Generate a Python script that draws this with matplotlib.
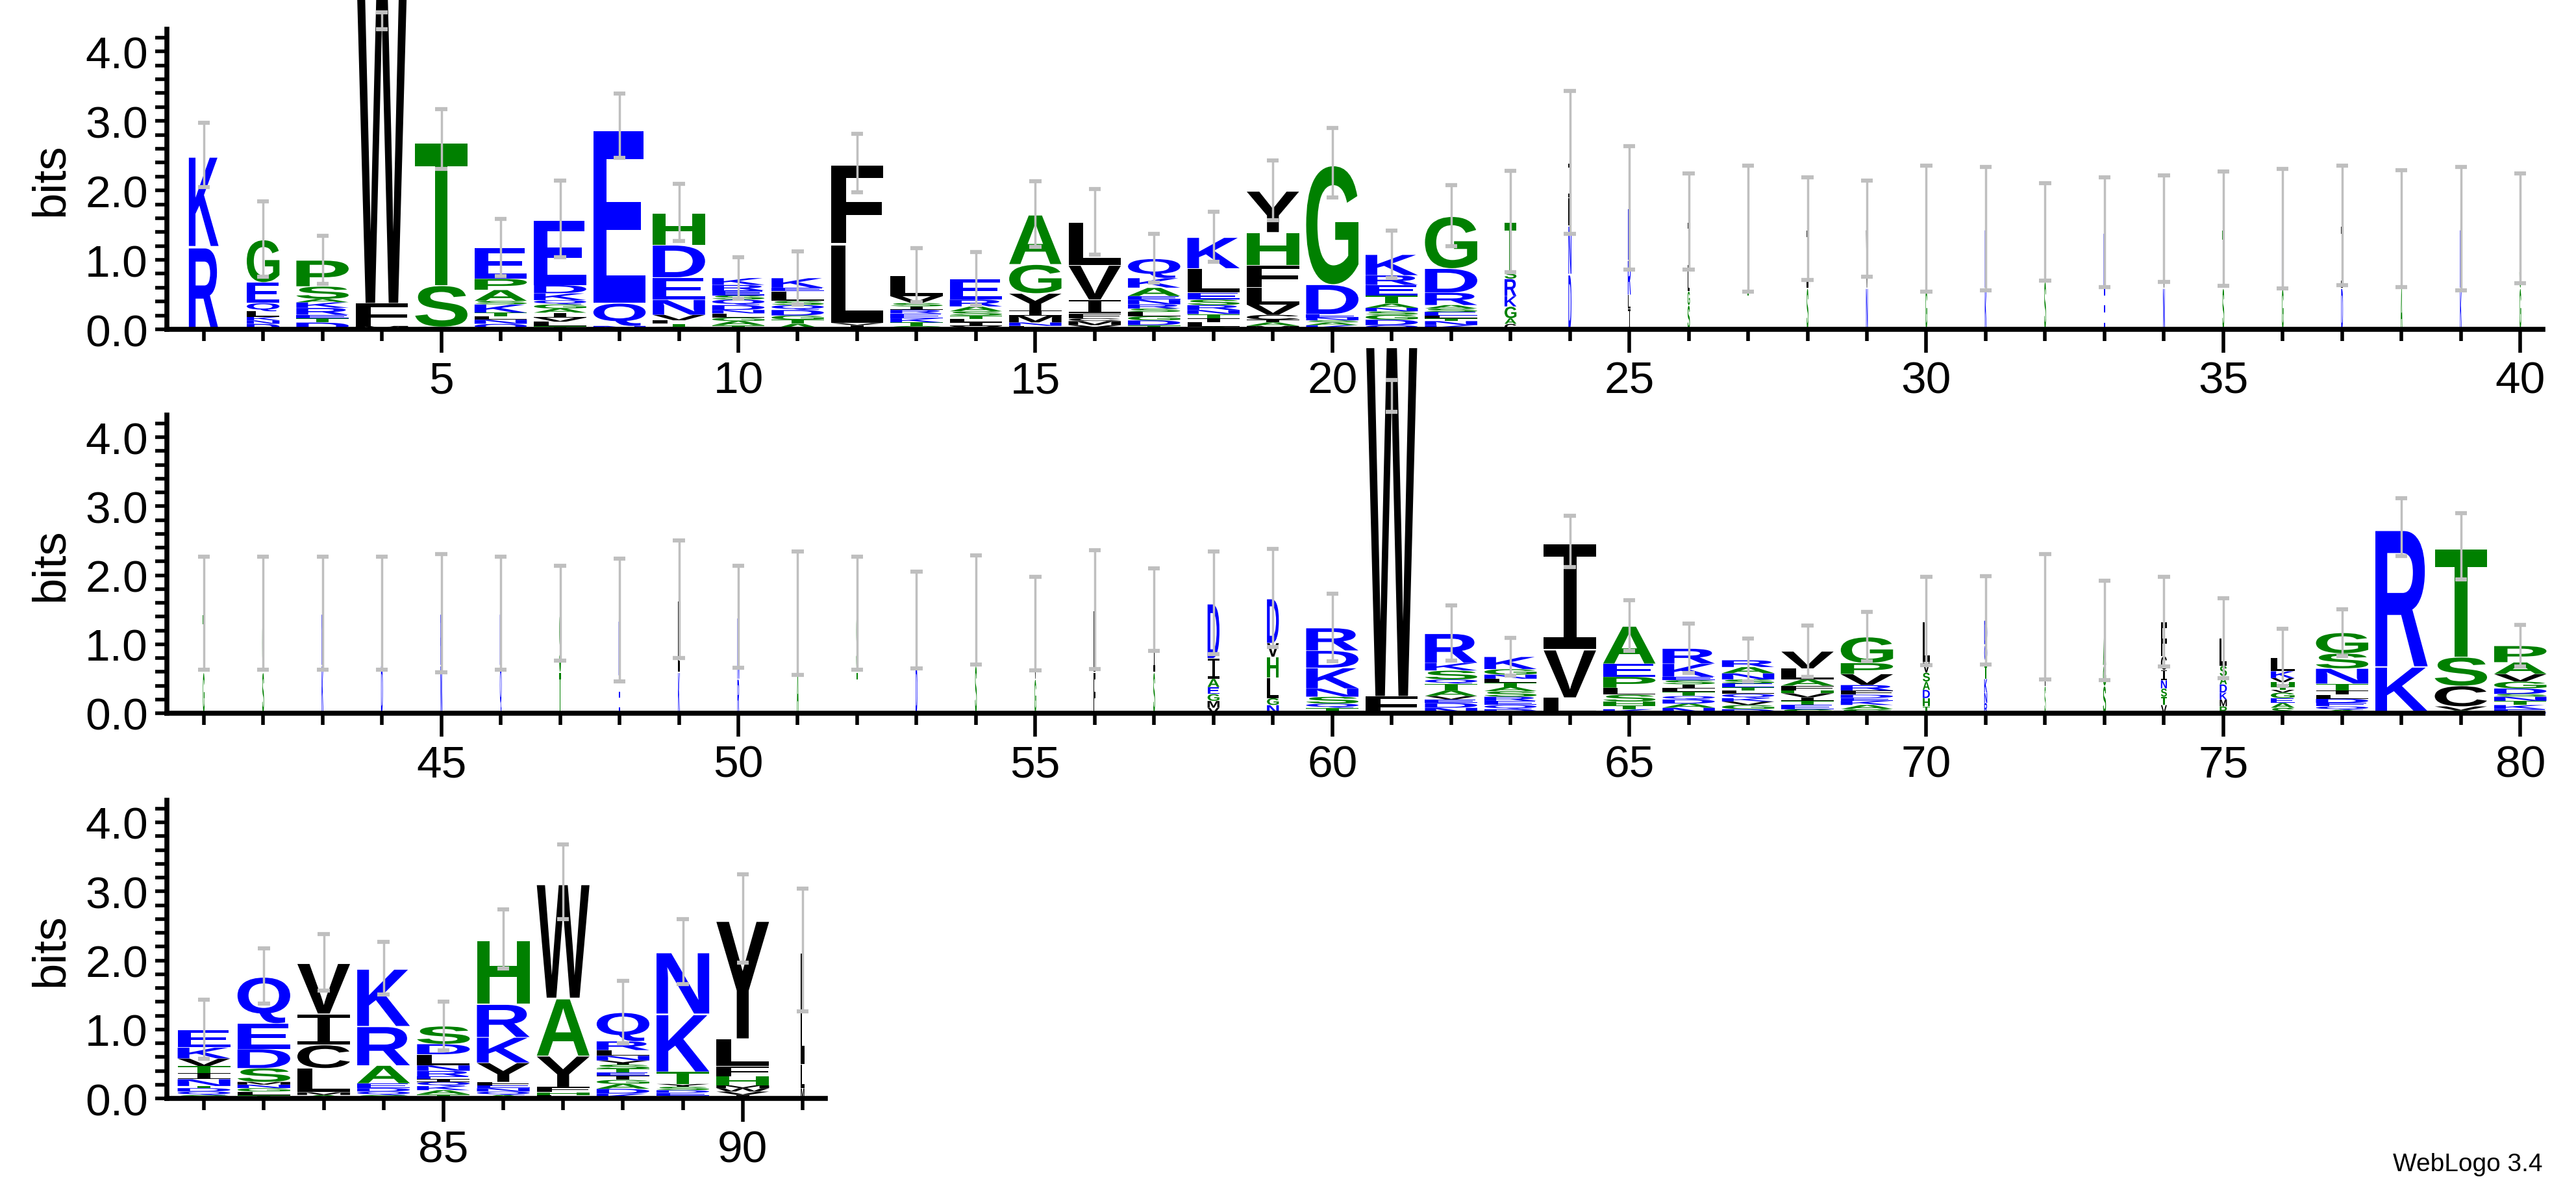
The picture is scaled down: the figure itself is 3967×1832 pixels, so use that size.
import matplotlib
matplotlib.use("Agg")
import matplotlib.pyplot as plt
from matplotlib.textpath import TextPath
from matplotlib.patches import PathPatch, Rectangle
from matplotlib.font_manager import FontProperties
from matplotlib.transforms import Affine2D, IdentityTransform
from matplotlib.ticker import MultipleLocator

# stacks, bottom to top: "letter height" pairs (bits), one string per position 1..91
stacks = [
    "R1.2 K1.31",
    "D.08 N.05 K.05 L.08 Q.12 E.3 G.62",
    "D.1 T.06 E.05 R.1 K.08 A.05 S.18 P.38",
    "M.05 F.33 W5.3",
    "G.04 S.6 T2.1",
    "Q.08 N.06 L.05 T.05 K.12 S.05 A.16 P.16 E.45",
    "T.05 L.06 V.06 I.07 A.06 G.06 Q.06 K.1 D.12 E.95",
    "N.05 Q.33 E2.55",
    "G.04 T.04 L.05 V.08 N.22 E.32 D.47 H.46",
    "T.06 A.06 G.05 L.06 N.05 D.07 Q.08 S.06 E.07 R.08 K.1",
    "A.08 T.06 G.06 D.08 Q.07 S.06 L.14 E.05 K.14",
    "I.06 V.03 L1.15 F1.15",
    "G.05 T.05 K.06 E.07 R.05 I.05 S.05 V.1 L.3",
    "V.05 I.05 L.05 T.05 S.06 A.07 R.1 E.3",
    "L.05 N.05 M.1 I.07 Y.25 G.42 A.72",
    "Y.06 M.06 C.04 F.07 I.2 V.5 L.62",
    "T.06 D.07 G.06 L.06 S.05 R.06 N.07 E.05 A.12 K.14 Q.28",
    "A.04 L.06 I.06 T.06 N.06 R.07 S.08 E.1 L.35 K.45",
    "M.05 A.05 I.04 C.07 V.15 L.25 F.32 H.47 Y.6",
    "K.06 A.04 S.03 N.04 E.05 D.43 G1.75",
    "Q.06 D.08 G.07 S.05 N.05 A.06 T.12 E.15 R.14 K.3",
    "K.06 N.06 T.04 L.04 E.05 S.05 A.05 R.18 D.35 G.76",
    "C.08 A.08 G.17 K.15 R.25 S.12 T.7",
    "D.8 N.7 L.4 I.5",
    "I.3 L.2 R.5 E.75",
    "S.35 G.2 L.3 I.7",
    "T.6 L.85", "S.6 I.85", "N.6 V.85", "G.6 L.85", "K.6 R.85", "S.7 G.7",
    "E.6 D.8", "N.6 V.85", "S.6 T.85", "G.6 K.85", "D.6 I.9", "A.6 L.85",
    "K.6 R.85", "G.6 S.85",
    "G.6 T.85", "S.6 G.85", "K.7 N.75", "D.7 E.75", "N.7 R.75", "Q.7 K.75",
    "T.6 S.85", "E.55 D.8", "K.6 L1.05", "R.5 N.9", "A.7 G.75", "T.6 S.85",
    "D.7 E.65", "S.7 L.8", "G.5 V.8", "F.6 L.9", "S.6 I.9",
    "V.08 M.1 G.1 E.1 A.12 I.3 D.8",
    "N.12 G.1 L.3 H.3 V.2 D.65",
    "T.08 Q.06 S.1 N.12 K.3 D.25 R.33",
    "F.25 W5.6",
    "N.08 D.07 E.05 V.05 A.08 T.1 Q.06 S.13 K.11 R.43",
    "D.06 Q.06 E.06 R.06 S.08 A.06 T.06 L.06 N.06 G.08 K.18",
    "L.23 V.7 I1.56",
    "K.06 T.05 H.06 S.1 L.1 P.16 E.19 A.55",
    "N.08 A.06 D.06 Q.05 T.06 L.05 I.06 S.06 E.05 K.19 R.22",
    "D.06 G.06 V.05 K.05 Q.06 L.05 T.05 E.05 S.06 N.09 A.09 R.1",
    "S.06 E.06 T.06 I.05 V.06 H.04 F.07 A.09 L.16 V.25",
    "S.06 A.06 K.06 E.04 D.05 F.06 R.08 V.16 P.16 G.38",
    "T.1 H.12 D.12 A.12 S.13 V.15 L.6",
    "R.15 N.15 K.2 T.2 Q.3 D.35",
    "S.4 I.5 L.5",
    "S.4 G.3 A.5",
    "V.12 T.12 S.12 N.12 I.15 C.2 F.5",
    "P.1 M.1 K.1 D.12 A.12 S.15 L.4",
    "S.08 A.07 E.07 G.08 V.04 T.05 H.06 V.06 K.1 L.2",
    "A.05 Q.05 E.05 D.06 L.06 I.06 T.1 N.22 S.22 G.3",
    "N.03 K.65 R2.02",
    "A.04 V.06 C.3 S.42 T1.6",
    "E.06 K.06 T.06 N.06 S.04 D.08 G.1 V.11 A.17 P.24",
    "S.05 Q.05 D.05 T.03 N.1 I.09 T.1 V.11 K.16 E.26",
    "T.05 L.05 G.05 N.05 M.04 S.2 D.28 E.37 Q.68",
    "A.05 M.04 L.35 C.34 I.45 V.74",
    "S.05 Q.05 D.05 E.07 A.26 R.57 K.84",
    "T.06 A.06 K.06 Q.06 I.04 E.04 R.08 N.08 L.16 D.15 S.26",
    "A.05 Q.05 N.05 E.04 F.05 Y.28 K.37 R.48 H.94",
    "L.05 H.04 F.08 Y.45 A.84 W1.68",
    "K.07 D.07 A.07 G.06 I.06 E.05 T.05 S.06 Y.06 N.07 L.08 R.13 Q.42",
    "G.04 E.04 D.04 S.05 Y.04 T.18 K.84 N.9",
    "I.05 V.05 W.05 M.04 H.13 F.15 L.4 Y1.74",
    "M.15 L.35 L1.65",
]

# top of the grey error bar per position (bits)
ebar_top = [
    2.97, 1.84, 1.35, 4.56, 3.17, 1.59, 2.14, 3.39, 2.09, 1.04,
    1.12, 2.81, 1.17, 1.11, 2.13, 2.02, 1.37, 1.69, 2.43, 2.90,
    1.42, 2.08, 2.28, 3.43, 2.64, 2.24, 2.36, 2.19, 2.14, 2.36,
    2.34, 2.10, 2.19, 2.22, 2.27, 2.31, 2.36, 2.29, 2.34, 2.24,
    2.27, 2.27, 2.27, 2.27, 2.31, 2.27, 2.14, 2.24, 2.50, 2.14,
    2.34, 2.27, 2.05, 2.29, 1.98, 2.36, 2.10, 2.34, 2.38, 1.73,
    4.83, 1.56, 1.09, 2.86, 1.64, 1.30, 1.08, 1.27, 1.47, 1.98,
    1.99, 2.31, 1.92, 1.98, 1.67, 1.22, 1.51, 3.12, 2.90, 1.28,
    1.43, 2.17, 2.38, 2.27, 1.40, 2.74, 3.68, 1.70, 2.60, 3.25,
    3.04,
]
# error bar centre where it is not at the stack top
ebar_mid = {4: 4.44, 61: 4.60}

# column widths (fraction of a position) for gappy columns
narrow = {1: 0.5, 2: 0.55, 23: 0.2, 24: 0.05, 25: 0.05, 26: 0.04,
          58: 0.2, 59: 0.2, 70: 0.12, 71: 0.05, 72: 0.02, 73: 0.05,
          74: 0.1, 75: 0.12, 76: 0.4, 91: 0.06}
for p in range(27, 58):
    narrow[p] = 0.03

colors = {}
for c in "KRDEQN":
    colors[c] = "#0000ff"
for c in "GSTAPH":
    colors[c] = "#008000"
for c in "WFLIVMYC":
    colors[c] = "#000000"

font = FontProperties(family="Liberation Sans", weight="bold")
font_i = FontProperties(family="DejaVu Sans Mono")  # thin serif I
plt.rcParams["font.family"] = ["Liberation Sans", "DejaVu Sans"]

W, H = 3967, 1833
fig = plt.figure(figsize=(W / 100, H / 100), dpi=100)

rows = [
    (1, 40, 508, 46, 3916),
    (41, 80, 1099, 640, 3916),
    (81, 91, 1692, 1233, 1271),
]
glyph_cache = {}


def glyph(ch):
    if ch not in glyph_cache:
        tp = TextPath((0, 0), ch, size=1, prop=font_i if ch == "I" else font)
        glyph_cache[ch] = (tp, tp.get_extents())
    return glyph_cache[ch]


def draw_letter(ax, ch, x, y0, h, w, clip=None):
    tp, ext = glyph(ch)
    tr = (Affine2D().translate(-ext.x0, -ext.y0)
          .scale(w / ext.width, h / ext.height)
          .translate(x - w / 2, y0))
    patch = PathPatch(tr.transform_path(tp), facecolor=colors[ch], edgecolor="none",
                      lw=0, clip_on=False, zorder=2)
    ax.add_patch(patch)
    if clip is not None:
        patch.set_clip_on(True)
        patch.set_clip_box(None)
        patch.set_clip_path(clip)


for first, last, y0px, y1px, x1px in rows:
    ax = fig.add_axes([257 / W, 1 - y0px / H, (x1px - 257) / W, (y0px - y1px) / H])
    ax.set_facecolor("none")
    ax.set_xlim(first - 0.62, last + 0.38)
    ax.set_ylim(0, 4.32)
    clip = None
    if first == 41:
        # the tall W is cut just under the first row's axis
        clip = Rectangle((0, 0), W, H - 537, transform=IdentityTransform())
    for p in range(first, last + 1):
        w = narrow.get(p, 0.88)
        y = 0.0
        for item in stacks[p - 1].split():
            ch, h = item[0], float(item[1:])
            draw_letter(ax, ch, p, y, h * 0.97, w, clip)
            y += h
        mid = ebar_mid.get(p, y)
        top = ebar_top[p - 1]
        lo = 2 * mid - top
        ax.plot([p, p], [lo, top], color="#bfbfbf", lw=2.5, zorder=3,
                clip_on=False, solid_capstyle="butt")
        for yy in (lo, top):
            ax.plot([p - 0.1, p + 0.1], [yy, yy], color="#bfbfbf", lw=4.5,
                    zorder=3, clip_on=False, solid_capstyle="butt")
    for s in ("top", "right"):
        ax.spines[s].set_visible(False)
    for s in ("left", "bottom"):
        ax.spines[s].set_linewidth(5.5)
        ax.spines[s].set_zorder(4)
    ax.yaxis.set_minor_locator(MultipleLocator(0.2))
    ax.set_yticks([0, 1, 2, 3, 4])
    ax.set_yticklabels(["0.0", "1.0", "2.0", "3.0", "4.0"])
    ax.set_xticks(list(range(first, last + 1)), minor=True)
    ax.set_xticks([t for t in range(first, last + 1) if t % 5 == 0])
    ax.tick_params(axis="y", which="both", length=13, width=4, labelsize=50, pad=8)
    ax.tick_params(axis="x", which="major", length=26, width=4, labelsize=50, pad=8)
    ax.tick_params(axis="x", which="minor", length=13, width=4)
    ax.set_ylabel("bits", fontsize=52, labelpad=14)

fig.text(0.987, 0.012, "WebLogo 3.4", ha="right", va="bottom", fontsize=28)
fig.savefig("out.png", dpi=100)
